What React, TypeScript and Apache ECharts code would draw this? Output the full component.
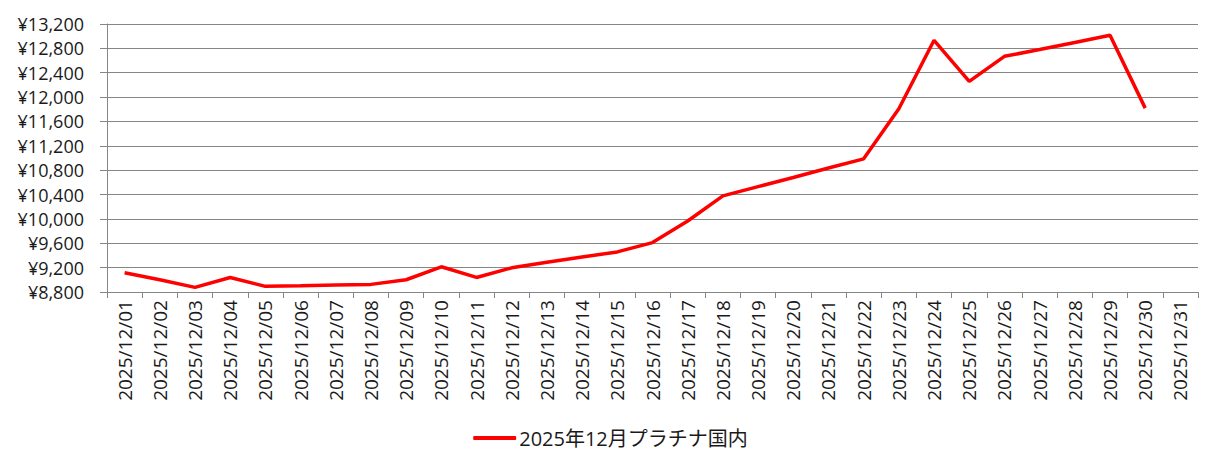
import React, { useEffect, useRef } from 'react';
import * as echarts from 'echarts';

const days = [
  '2025/12/01', '2025/12/02', '2025/12/03', '2025/12/04', '2025/12/05', '2025/12/06',
  '2025/12/07', '2025/12/08', '2025/12/09', '2025/12/10', '2025/12/11', '2025/12/12',
  '2025/12/13', '2025/12/14', '2025/12/15', '2025/12/16', '2025/12/17', '2025/12/18',
  '2025/12/19', '2025/12/20', '2025/12/21', '2025/12/22', '2025/12/23', '2025/12/24',
  '2025/12/25', '2025/12/26', '2025/12/27', '2025/12/28', '2025/12/29', '2025/12/30',
  '2025/12/31',
];

// 円/g, 31日はまだデータなし
const platinumPrices = [
  9115, 9000, 8876, 9039, 8893, 8903, 8914, 8925, 9001, 9214, 9039, 9197,
  9290, 9375, 9458, 9611, 9966, 10378, 10530, 10680, 10835, 10986, 11808, 12932,
  12258, 12669, 12780, 12895, 13014, 11819, null,
];

const seriesName = '2025年12月プラチナ国内';

const yMin = 8800;
const yMax = 13200;
const yStep = 400;

const App = () => {
  const chartRef = useRef<any>(null);

  useEffect(() => {
    const chart = echarts.init(chartRef.current, null, { renderer: 'svg' });

    const option: any = {
      animation: false,
      textStyle: { fontFamily: '"Open Sans", "Noto Sans CJK JP", sans-serif' },
      grid: {
        left: 107,
        right: 23,
        top: 24,
        bottom: 179,
        containLabel: false,
        outerBoundsMode: 'none',
      },
      xAxis: {
        type: 'category',
        data: days,
        boundaryGap: true,
        axisLine: { lineStyle: { color: '#868686', width: 1 } },
        axisTick: { show: true, length: 6, lineStyle: { color: '#868686' } },
        axisLabel: {
          rotate: 90,
          margin: 8,
          interval: 0,
          fontSize: 19,
          color: '#1a1a1a',
        },
      },
      yAxis: {
        type: 'value',
        min: yMin,
        max: yMax,
        interval: yStep,
        axisLine: { show: true, lineStyle: { color: '#868686', width: 1 } },
        axisTick: { show: true, length: 7, lineStyle: { color: '#868686' } },
        splitLine: { lineStyle: { color: '#868686', width: 1 } },
        axisLabel: {
          margin: 23,
          fontSize: 18,
          color: '#1a1a1a',
          formatter: (v: number) => '¥' + v.toLocaleString('en-US'),
        },
      },
      legend: {
        bottom: 18,
        left: 'center',
        itemWidth: 43,
        itemHeight: 4,
        itemGap: 10,
        icon: 'roundRect',
        textStyle: { fontSize: 20, color: '#1a1a1a', padding: [0, 0, 0, -2] },
        data: [seriesName],
      },
      series: [
        {
          name: seriesName,
          type: 'line',
          data: platinumPrices,
          symbol: 'none',
          connectNulls: false,
          lineStyle: { color: '#ff0000', width: 3.5 },
          itemStyle: { color: '#ff0000' },
        },
      ],
    };

    chart.setOption(option);

    return () => {
      chart.dispose();
    };
  }, []);

  return (
    <div
      ref={chartRef}
      style={{ position: 'fixed', left: 0, top: 0, width: '1221px', height: '471px', background: '#fff' }}
    />
  );
};

export default App;
